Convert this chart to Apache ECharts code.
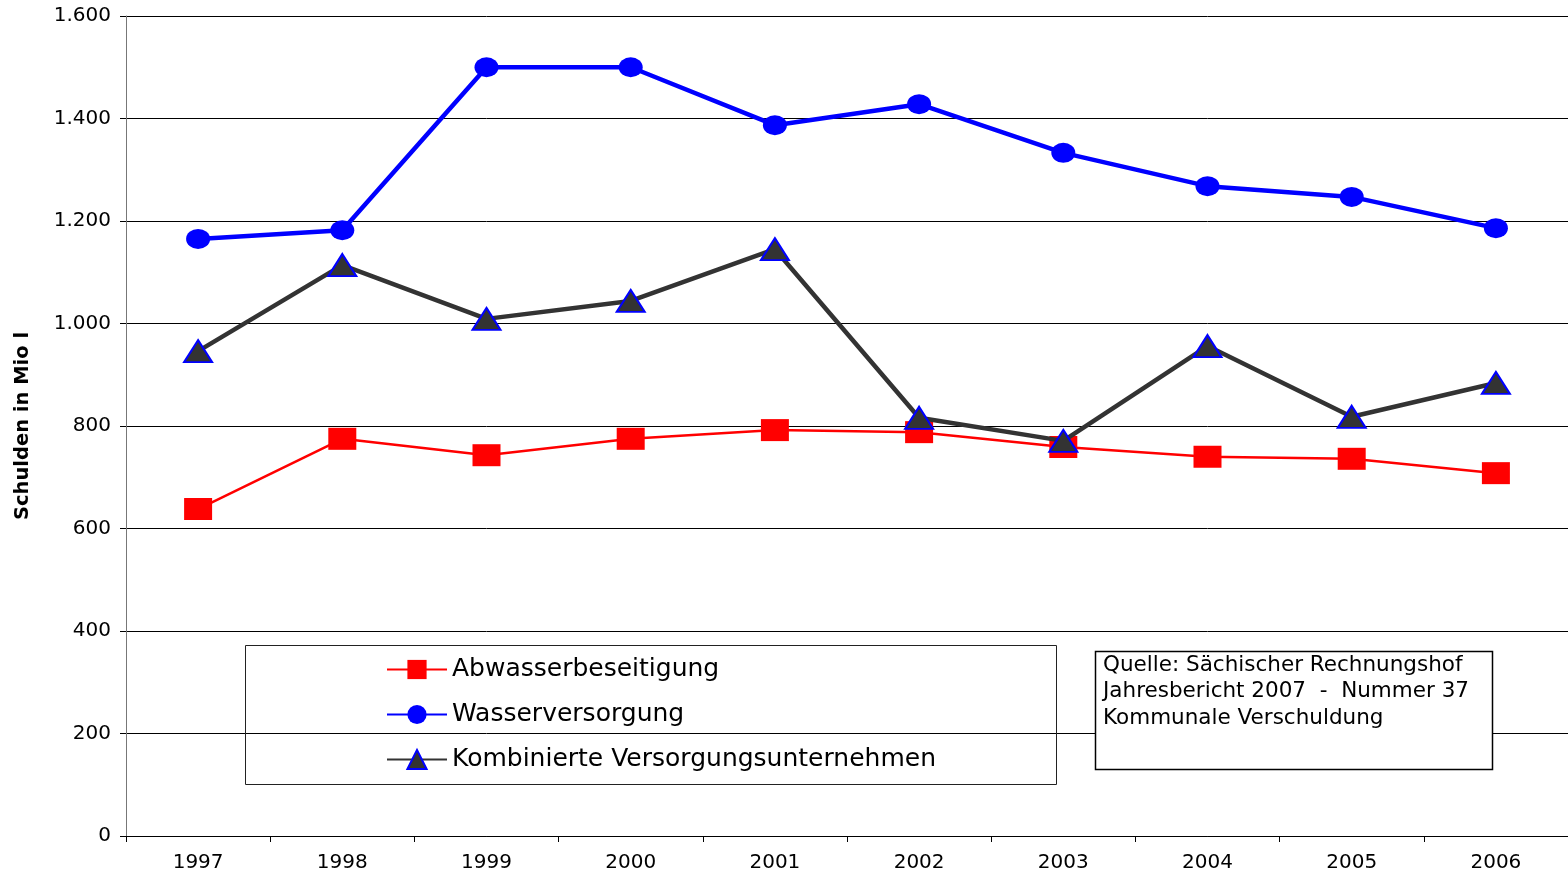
<!DOCTYPE html>
<html><head><meta charset="utf-8">
<script src="https://cdn.jsdelivr.net/npm/echarts@6/dist/echarts.min.js"></script>
<style>html,body{margin:0;padding:0;background:#fff}#c{width:1568px;height:874px}</style>
</head><body><div id="c"></div>
<script>
const years = ['1997','1998','1999','2000','2001','2002','2003','2004','2005','2006'];
const abwasser = [638, 775, 743, 775, 792, 788, 759, 740, 736, 708];
const wasser = [1165, 1182, 1500, 1500, 1387, 1428, 1333, 1268, 1247, 1186];
const kombi = [946, 1114, 1009, 1044, 1145, 816, 771, 956, 818, 884];
const yTicks = [0, 200, 400, 600, 800, 1000, 1200, 1400, 1600];
const sourceLines = ['Quelle: Sächischer Rechnungshof', 'Jahresbericht 2007  -  Nummer 37', 'Kommunale Verschuldung'];

const FONT = 'DejaVu Sans, Arial, sans-serif';
const fmt = v => String(v).replace(/\B(?=(\d{3})+(?!\d))/g, '.');
const chart = echarts.init(document.getElementById('c'));
chart.setOption({
  animation: false,
  textStyle: {fontFamily: FONT},
  grid: {left: 126, right: 0, top: 16, bottom: 38, containLabel: false, outerBoundsMode: 'none'},
  xAxis: {
    type: 'category', data: years, boundaryGap: true,
    axisLine: {lineStyle: {color: '#000', width: 1}},
    axisTick: {show: true, length: 6, lineStyle: {color: '#000'}},
    axisLabel: {color: '#000', fontSize: 20, margin: 17, fontFamily: FONT}
  },
  yAxis: {
    type: 'value', min: 0, max: 1600, interval: 200,
    name: 'Schulden in Mio l', nameLocation: 'middle', nameGap: 93, nameRotate: 90,
    nameTextStyle: {fontWeight: 'bold', fontSize: 19.5, color: '#000', fontFamily: FONT},
    axisLine: {show: true, lineStyle: {color: '#777', width: 1}},
    axisTick: {show: true, length: 6, inside: false, lineStyle: {color: '#000'}},
    axisLabel: {color: '#000', fontSize: 20, margin: 15, fontFamily: FONT, formatter: v => fmt(v)},
    splitLine: {lineStyle: {color: '#000', width: 1}}
  },
  legend: {
    orient: 'vertical', left: 381, top: 652, itemGap: 20, itemWidth: 60, itemHeight: 24,
    textStyle: {fontSize: 25, color: '#000', fontFamily: FONT},
    data: ['Abwasserbeseitigung', 'Wasserversorgung', 'Kombinierte Versorgungsunternehmen']
  },
  graphic: [
    {type: 'rect', shape: {x: 245.5, y: 645.5, width: 811, height: 139}, style: {fill: 'none', stroke: '#222', lineWidth: 1}, z: 1},
    {type: 'rect', shape: {x: 1095.5, y: 651.5, width: 397, height: 118}, style: {fill: '#fff', stroke: '#000', lineWidth: 1.5}, z: 1},
    {type: 'text', left: 1103, top: 652, z: 2, style: {text: sourceLines.join('\n'), fontSize: 21.5, lineHeight: 26.5, fill: '#000', fontFamily: FONT}}
  ],
  series: [
    {name: 'Abwasserbeseitigung', type: 'line', data: abwasser, symbol: 'rect', symbolSize: [28, 22],
     lineStyle: {color: '#ff0000', width: 2.5}, itemStyle: {color: '#ff0000'}, z: 3},
    {name: 'Wasserversorgung', type: 'line', data: wasser, symbol: 'circle', symbolSize: [24, 20],
     lineStyle: {color: '#0000ff', width: 4.5}, itemStyle: {color: '#0000ff'}, z: 4},
    {name: 'Kombinierte Versorgungsunternehmen', type: 'line', data: kombi, symbol: 'triangle', symbolSize: [28, 22],
     lineStyle: {color: '#333333', width: 4.5}, itemStyle: {color: '#333333', borderColor: '#0000ff', borderWidth: 2}, z: 5}
  ]
});
</script></body></html>
